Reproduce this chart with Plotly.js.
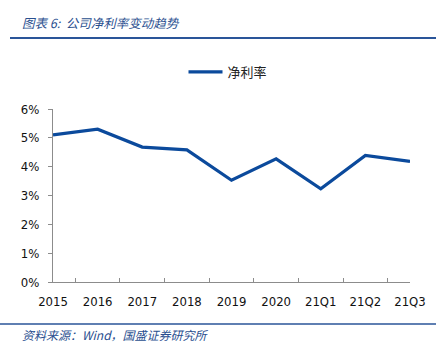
<!DOCTYPE html>
<html><head><meta charset="utf-8">
<script src="https://cdn.plot.ly/plotly-3.0.1.min.js"></script>
<style>body{margin:0;background:#fff}#c{width:436px;height:360px}</style>
</head><body><div id="c"></div>
<script>
const categories = ['2015','2016','2017','2018','2019','2020','21Q1','21Q2','21Q3'];
const netMargin = [5.10, 5.30, 4.68, 4.58, 3.53, 4.27, 3.23, 4.39, 4.18];
const seriesName = '净利率';
const yTicks = [0,1,2,3,4,5,6];
const yTickLabels = ['0%','1%','2%','3%','4%','5%','6%'];

const L=53, R=410, T=109, B=282, W=436, H=360;
const px = x => (x-L)/(R-L);
const py = y => (B-y)/(B-T);

const trace = {
  x: categories, y: netMargin, type:'scatter', mode:'lines', name: seriesName,
  line:{color:'#0b4a9c', width:3.2}
};
const tf = {family:'DejaVu Sans Condensed, DejaVu Sans, sans-serif', size:13, color:'#111'};
const layout = {
  width:W, height:H,
  margin:{l:L, r:W-R, t:T, b:H-B, pad:0},
  paper_bgcolor:'#fff', plot_bgcolor:'#fff',
  font:tf,
  showlegend:true,
  legend:{orientation:'h', x:px(228), y:py(72), xanchor:'center', yanchor:'middle',
    font:{family:'Noto Sans CJK SC', size:13, color:'#222'}, itemwidth:34},
  xaxis:{type:'category', showgrid:false, showline:true, linecolor:'#8c8c8c', linewidth:1,
    ticks:'inside', tickson:'boundaries', ticklen:4, tickcolor:'#8c8c8c', mirror:false,
    tickfont:tf, ticklabelstandoff:7, fixedrange:true},
  yaxis:{range:[0,6], tickvals:yTicks, ticktext:yTickLabels, showgrid:false, zeroline:false,
    showline:true, linecolor:'#8c8c8c', linewidth:1, ticks:'outside', ticklen:4, tickcolor:'#8c8c8c',
    tickfont:tf, ticklabelstandoff:6, fixedrange:true},
  shapes:[
    {type:'line', xref:'paper', yref:'paper', x0:px(10), x1:px(436), y0:py(38), y1:py(38), line:{color:'#2a5599', width:2}},
    {type:'line', xref:'paper', yref:'paper', x0:px(0), x1:px(436), y0:py(324), y1:py(324), line:{color:'#2a5599', width:1.5}}
  ],
  annotations:[
    {xref:'paper', yref:'paper', x:px(20), y:py(22), xanchor:'left', yanchor:'middle', showarrow:false,
     text:'<i>图表 6:  公司净利率变动趋势</i>', font:{family:'Noto Sans CJK SC', size:12.5, color:'#2a4f8f'}},
    {xref:'paper', yref:'paper', x:px(20), y:py(334), xanchor:'left', yanchor:'middle', showarrow:false,
     text:'<i>资料来源：Wind，国盛证券研究所</i>', font:{family:'Noto Sans CJK SC', size:12, color:'#2a4f8f'}}
  ]
};
Plotly.newPlot('c',[trace],layout,{displayModeBar:false, staticPlot:true});
</script></body></html>
